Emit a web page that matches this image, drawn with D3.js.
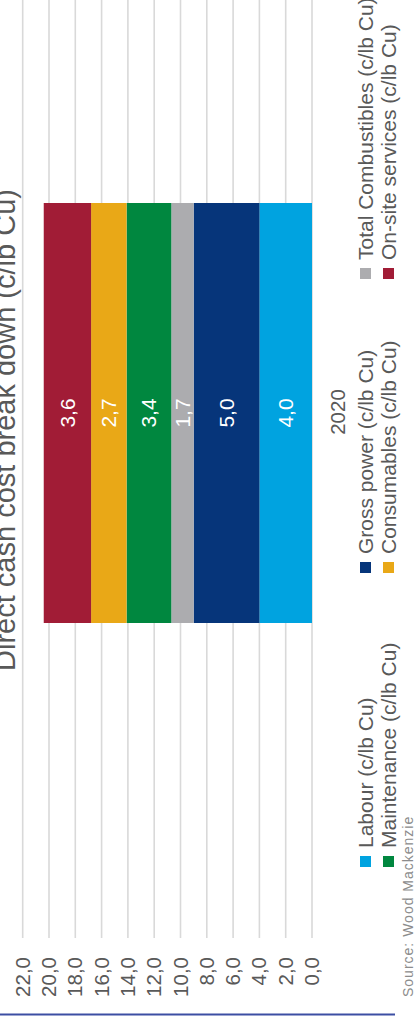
<!DOCTYPE html>
<html>
<head>
<meta charset="utf-8">
<script src="https://cdn.jsdelivr.net/npm/d3@7"></script>
<style>
  html, body { margin: 0; padding: 0; background: #ffffff; }
  svg { display: block; font-family: "Liberation Sans", Arial, Helvetica, sans-serif; }
</style>
</head>
<body>
<svg id="chart" width="415" height="1016"></svg>
<script>
// Direct cash cost break down, stacked column (page drawn turned on its side)
const categories = ["2020"];
const seriesNames = [
  "Labour (c/lb Cu)",
  "Gross power (c/lb Cu)",
  "Total Combustibles (c/lb Cu)",
  "Maintenance (c/lb Cu)",
  "Consumables (c/lb Cu)",
  "On-site services (c/lb Cu)"
];
const labourValues      = [4.0];
const grossPowerValues  = [5.0];
const combustibleValues = [1.7];
const maintenanceValues = [3.4];
const consumableValues  = [2.7];
const onSiteValues      = [3.6];
const seriesValues = [labourValues, grossPowerValues, combustibleValues,
                      maintenanceValues, consumableValues, onSiteValues];
const seriesColors = ["#00a3e0", "#06357a", "#acacaf", "#00873f", "#e9a817", "#a11c36"];
const yTicks = [0, 2, 4, 6, 8, 10, 12, 14, 16, 18, 20, 22];
const titleText = "Direct cash cost break down (c/lb Cu)";
const sourceText = "Source: Wood Mackenzie";

const W = 1016, H = 415;              // chart frame before turning
const svg = d3.select("#chart");
const g = svg.append("g").attr("transform", `translate(0,${W}) rotate(-90)`);

const fmt = v => d3.format(".1f")(v).replace(".", ",");
const textColor = "#595959";

// scales
const y = d3.scaleLinear().domain([0, 22]).range([312, 22.7]);
const x = d3.scaleBand().domain(categories).range([393, 813]).padding(0);

// gridlines
g.append("g")
  .selectAll("line")
  .data(yTicks)
  .join("line")
  .attr("x1", 78).attr("x2", W + 20)
  .attr("y1", d => y(d)).attr("y2", d => y(d))
  .attr("stroke", "#d9d9d9").attr("stroke-width", 1.6);

// value axis labels
const yAxis = d3.axisLeft(y).tickValues(yTicks).tickSize(0).tickPadding(0).tickFormat(fmt);
const ya = g.append("g").attr("transform", "translate(59,0)").call(yAxis);
ya.select(".domain").remove();
ya.selectAll("text")
  .attr("font-size", 20.5)
  .attr("font-family", "'Liberation Sans', Arial, sans-serif")
  .attr("fill", textColor);

// stacked bars
const rows = categories.map((c, i) => {
  const o = { category: c };
  seriesNames.forEach((s, j) => { o[s] = seriesValues[j][i]; });
  return o;
});
const stacked = d3.stack().keys(seriesNames)(rows);

const layers = g.append("g").selectAll("g")
  .data(stacked)
  .join("g")
  .attr("fill", (d, i) => seriesColors[i]);

layers.selectAll("rect")
  .data(d => d)
  .join("rect")
  .attr("x", d => x(d.data.category))
  .attr("width", x.bandwidth())
  .attr("y", d => y(d[1]))
  .attr("height", d => y(d[0]) - y(d[1]));

layers.selectAll("text")
  .data(d => d.map(p => ({ p, key: d.key })))
  .join("text")
  .attr("x", d => x(d.p.data.category) + x.bandwidth() / 2)
  .attr("y", d => (y(d.p[0]) + y(d.p[1])) / 2)
  .attr("text-anchor", "middle")
  .attr("dominant-baseline", "central")
  .attr("font-size", 21)
  .attr("fill", "#ffffff")
  .text(d => fmt(d.p.data[d.key]));

// category label
g.append("g").selectAll("text")
  .data(categories)
  .join("text")
  .attr("x", d => x(d) + x.bandwidth() / 2 + 1)
  .attr("y", 345)
  .attr("text-anchor", "middle")
  .attr("font-size", 20.5)
  .attr("fill", textColor)
  .text(d => d);

// title
g.append("text")
  .attr("x", 586).attr("y", 15)
  .attr("text-anchor", "middle")
  .attr("font-size", 29)
  .attr("fill", textColor)
  .text(titleText);

// legend: three columns, two rows
const legendCols = [149, 443, 737];
const legendRows = [365.5, 388.5];
const legend = g.append("g").selectAll("g")
  .data(seriesNames)
  .join("g")
  .attr("transform", (d, i) => `translate(${legendCols[i % 3]},${legendRows[Math.floor(i / 3)]})`);
legend.append("rect")
  .attr("x", 0).attr("y", -5.5)
  .attr("width", 11).attr("height", 11)
  .attr("fill", (d, i) => seriesColors[i]);
legend.append("text")
  .attr("x", 19).attr("y", 0)
  .attr("dominant-baseline", "central")
  .attr("font-size", 21)
  .attr("fill", textColor)
  .text(d => d);

// source note
g.append("text")
  .attr("x", 19).attr("y", 413)
  .attr("font-size", 14)
  .attr("letter-spacing", 1)
  .attr("fill", "#8c8c8c")
  .text(sourceText);

// bottom rule
g.append("line")
  .attr("x1", 1.5).attr("x2", 1.5)
  .attr("y1", 0).attr("y2", 395)
  .attr("stroke", "#3c4fa3").attr("stroke-width", 2);
</script>
</body>
</html>
